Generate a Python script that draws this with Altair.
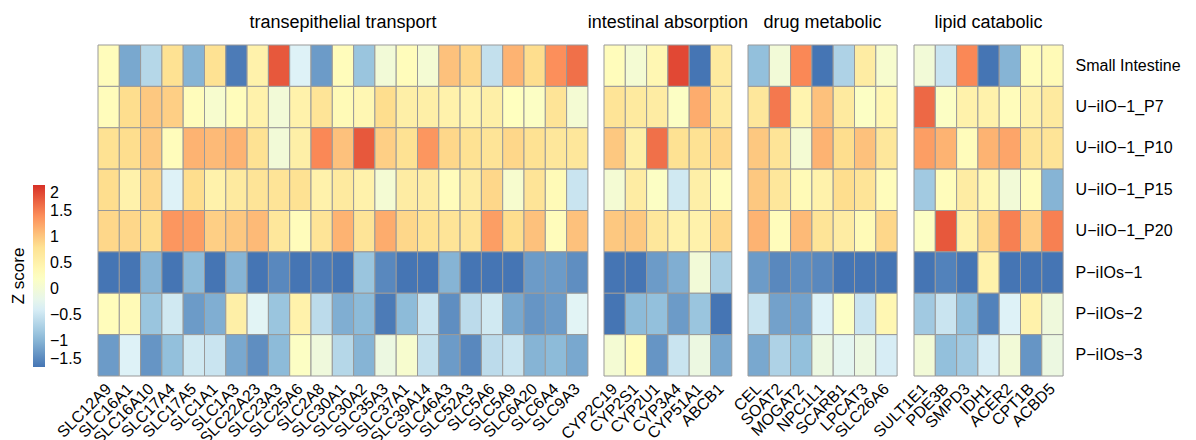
import altair as alt
import pandas as pd

SAMPLES = ["Small Intestine", "U\u2212iIO\u22121_P7", "U\u2212iIO\u22121_P10", "U\u2212iIO\u22121_P15",
           "U\u2212iIO\u22121_P20", "P\u2212iIOs\u22121", "P\u2212iIOs\u22122", "P\u2212iIOs\u22123"]

GROUPS = ["transepithelial transport", "intestinal absorption", "drug metabolic", "lipid catabolic"]

TRANS_GENES = ["SLC12A9", "SLC16A1", "SLC16A10", "SLC17A4", "SLC17A5", "SLC1A1", "SLC1A3", "SLC22A23",
               "SLC23A3", "SLC25A6", "SLC2A8", "SLC30A1", "SLC30A2", "SLC35A3", "SLC37A1", "SLC39A14",
               "SLC46A3", "SLC52A3", "SLC5A6", "SLC5A9", "SLC6A20", "SLC6A4", "SLC9A3"]
TRANS_Z = [
    [0.3, -1.1, -0.65, 0.8, -1.0, 0.8, -1.45, 0.5, 1.75, -0.35, -1.2, 0.3, -0.85, 0.0, 0.3, 0.05, 1.05, 0.9, -0.55, 1.15, 0.85, 1.4, 1.6],
    [0.3, 0.85, 1.0, 0.95, 0.3, 0.1, 0.3, 0.5, 0.0, 0.5, 0.75, 0.35, 0.4, 0.85, 0.55, 0.55, 0.5, 0.45, 0.55, 0.25, 0.2, 0.75, 0.05],
    [0.8, 0.85, 1.0, 0.3, 1.15, 1.1, 1.15, 0.8, 0.0, 0.55, 1.45, 1.05, 1.75, 0.95, 0.8, 1.35, 0.9, 0.8, 0.75, 0.9, 0.8, 0.7, 0.7],
    [0.85, 0.5, 0.9, -0.35, 0.85, 0.5, 0.65, 0.75, 0.75, 0.8, 0.5, 0.65, 0.5, 0.05, 0.6, 0.6, 0.3, 0.6, 0.9, 0.1, 0.75, 0.35, -0.5],
    [0.9, 0.9, 0.85, 1.35, 1.3, 0.95, 1.0, 1.1, 0.7, 0.3, 0.75, 1.15, 0.75, 1.2, 0.9, 0.8, 0.75, 0.75, 1.3, 0.85, 1.05, 0.3, 1.05],
    [-1.5, -1.5, -1.0, -1.5, -0.95, -1.5, -1.0, -1.5, -1.35, -1.5, -1.45, -1.5, -0.85, -1.35, -1.5, -1.5, -1.0, -1.5, -1.5, -1.5, -1.2, -1.2, -1.3],
    [0.3, 0.35, -0.85, -0.45, -1.2, -1.05, 0.55, -0.3, -0.85, 0.5, -0.6, -1.05, -0.95, -1.45, -0.95, -0.5, -1.3, -0.6, -0.45, -1.1, -1.25, -1.2, -0.3],
    [-1.2, -0.35, -1.25, -0.9, -0.45, -0.5, -1.1, -1.3, -0.95, 0.2, -0.05, -0.65, -1.0, -0.1, 0.1, -0.55, -1.2, -1.35, -0.6, -0.5, -1.0, -0.95, -1.1],
]

ABS_GENES = ["CYP2C19", "CYP2S1", "CYP2U1", "CYP3A4", "CYP51A1", "ABCB1"]
ABS_Z = [
    [0.3, 0.05, 0.4, 1.85, -1.5, 0.65],
    [0.75, 0.65, 0.6, 0.2, 1.2, 0.65],
    [1.0, 0.55, 1.6, 0.8, 0.8, 0.9],
    [0.05, 0.6, 0.2, -0.45, 0.55, 0.3],
    [1.0, 1.0, 0.7, 0.5, 0.5, 0.9],
    [-1.5, -1.5, -1.2, -1.05, 0.0, -0.75],
    [-1.5, -0.95, -0.9, -1.2, -0.85, -1.5],
    [0.05, 0.3, -1.25, -0.5, -0.1, -1.1],
]

DRUG_GENES = ["CEL", "SOAT2", "MOGAT2", "NPC1L1", "SCARB1", "LPCAT3", "SLC26A6"]
DRUG_Z = [
    [-0.9, 0.0, 1.45, -1.5, -0.7, 0.6, 0.1],
    [0.7, 1.55, 0.45, 1.05, 0.65, 0.2, 0.4],
    [1.0, 0.75, 0.05, 1.15, 0.85, 1.05, 0.7],
    [1.0, 0.7, 0.35, 0.5, 0.85, 0.75, 0.3],
    [1.15, 0.3, 1.1, 0.75, 0.6, 0.35, 0.9],
    [-1.2, -1.35, -1.3, -1.35, -1.5, -1.5, -1.5],
    [-0.5, -1.15, -1.15, -0.35, 0.2, -0.5, 0.4],
    [-1.1, -0.7, -0.9, -0.1, -0.25, -0.1, -0.4],
]

LIPID_GENES = ["SULT1E1", "PDE3B", "SMPD3", "IDH1", "ACER2", "CPT1B", "ACBD5"]
LIPID_Z = [
    [0.0, -0.5, 1.45, -1.5, -1.0, 0.3, 0.35],
    [1.65, 0.2, 0.5, 0.5, 0.3, 0.5, 0.65],
    [1.3, 1.15, 0.3, 1.15, 1.25, 0.75, 0.75],
    [-0.8, 0.3, 0.6, 0.4, 0.0, 0.3, -1.0],
    [0.2, 1.75, 0.5, 0.9, 1.5, 0.95, 1.5],
    [-1.5, -1.4, -1.5, 0.5, -1.5, -1.5, -1.5],
    [-0.8, -0.5, -0.9, -1.4, -0.35, 0.5, -0.05],
    [0.0, -0.9, -0.8, -0.4, 0.0, -1.25, -0.1],
]

LEGEND_VALUES = [2, 1.5, 1, 0.5, 0, -0.5, -1, -1.5]
COLOR_STOPS = [-1.5, -0.9167, -0.3333, 0.25, 0.8333, 1.4167, 2.0]
COLOR_RANGE = ["#4575B4", "#91BFDB", "#E0F3F8", "#FFFFBF", "#FEE090", "#FC8D59", "#D73027"]

CELL_W = 21.3
PANEL_H = 331
FONT = "Liberation Sans"


def panel(title, genes, rows, first=False, last=False):
    recs = []
    for s, vals in zip(SAMPLES, rows):
        for g, v in zip(genes, vals):
            recs.append({"sample": s, "gene": g, "z": v})
    df = pd.DataFrame(recs)
    if first:
        legend = alt.Legend(
            orient="none", legendX=-88, legendY=140, direction="vertical",
            values=LEGEND_VALUES, format=".1~f", gradientLength=182, gradientThickness=12,
            title="Z score", titleOrient="left", titleFontSize=17,
            titleFontWeight="normal", titleColor="black", titleFont=FONT,
            labelFontSize=16, labelColor="black", labelFont=FONT, labelOffset=5,
            labelOverlap=False, gradientStrokeWidth=0,
        )
    else:
        legend = None
    if last:
        yaxis = alt.Axis(orient="right", title=None, ticks=False, domain=False,
                         labelFontSize=16, labelPadding=12, labelColor="black", labelFont=FONT)
    else:
        yaxis = None
    return alt.Chart(df).mark_rect(stroke="#999999", strokeWidth=1).encode(
        x=alt.X("gene:N", sort=genes, scale=alt.Scale(paddingInner=0, paddingOuter=0),
                axis=alt.Axis(title=None, ticks=False, domain=False, labelAngle=-45,
                              labelAlign="right", labelBaseline="middle", labelPadding=10,
                              labelFontSize=16, labelColor="black", labelFont=FONT,
                              labelOverlap=False, labelLimit=300)),
        y=alt.Y("sample:N", sort=SAMPLES, scale=alt.Scale(paddingInner=0, paddingOuter=0), axis=yaxis),
        color=alt.Color("z:Q", scale=alt.Scale(domain=COLOR_STOPS, range=COLOR_RANGE, interpolate="rgb"),
                        legend=legend),
        tooltip=["sample:N", "gene:N", "z:Q"],
    ).properties(
        width=CELL_W * len(genes), height=PANEL_H,
        title=alt.TitleParams(title, fontSize=18, fontWeight="normal", font=FONT, color="black",
                              anchor="middle", offset=13),
    )


chart = alt.hconcat(
    panel(GROUPS[0], TRANS_GENES, TRANS_Z, first=True),
    panel(GROUPS[1], ABS_GENES, ABS_Z),
    panel(GROUPS[2], DRUG_GENES, DRUG_Z),
    panel(GROUPS[3], LIPID_GENES, LIPID_Z, last=True),
    spacing=16, bounds="flush",
).resolve_scale(
    x="independent", y="independent", color="independent"
).resolve_axis(
    x="independent", y="independent"
).resolve_legend(
    color="independent"
).configure_view(
    stroke=None
).properties(
    padding={"left": 2, "top": 5, "right": 5, "bottom": 0}
)

chart.save("out.html", embed_options={"renderer": "svg", "actions": False})
